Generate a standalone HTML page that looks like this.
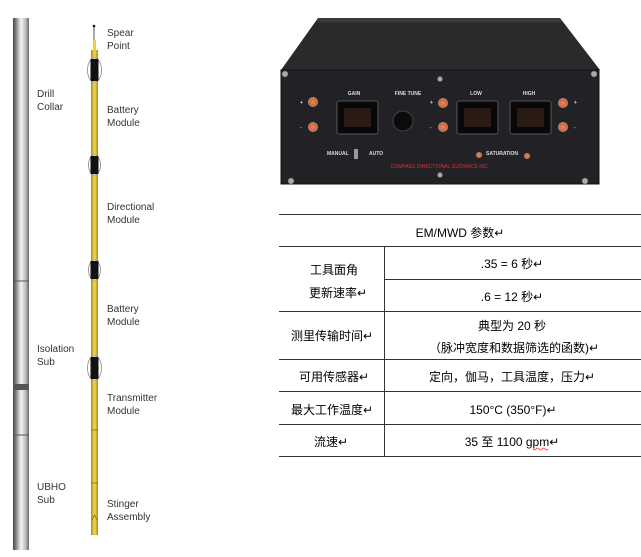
<!DOCTYPE html>
<html><head><meta charset="utf-8"><style>
body{margin:0;background:#fff;}
svg{display:block;}
.t{font-family:"Liberation Sans",sans-serif;font-size:10px;fill:#333;}
.c{font-family:"Liberation Sans","Noto Sans CJK SC",sans-serif;font-size:12px;fill:#000;}
.p{font-family:"Liberation Sans",sans-serif;font-size:5px;fill:#ddd;font-weight:bold;}
</style></head><body>
<svg width="641" height="557" viewBox="0 0 641 557">
<defs>
<linearGradient id="col" x1="0" x2="1"><stop offset="0" stop-color="#444"/><stop offset=".25" stop-color="#999"/><stop offset=".5" stop-color="#f4f4f4"/><stop offset=".8" stop-color="#bbb"/><stop offset="1" stop-color="#666"/></linearGradient>
<linearGradient id="rod" x1="0" x2="1"><stop offset="0" stop-color="#b08a10"/><stop offset=".5" stop-color="#f3dc5a"/><stop offset="1" stop-color="#b08a10"/></linearGradient>
<radialGradient id="btn"><stop offset="0" stop-color="#f08a5a"/><stop offset=".7" stop-color="#d8643a"/><stop offset="1" stop-color="#999"/></radialGradient>
</defs>
<!-- collar -->
<rect x="13" y="18" width="16" height="532" fill="url(#col)"/>
<line x1="13" y1="281" x2="29" y2="281" stroke="#555"/>
<rect x="13" y="384" width="16" height="6" fill="#555"/>
<line x1="13" y1="435" x2="29" y2="435" stroke="#555"/>
<!-- rod -->
<line x1="94" y1="26" x2="94" y2="40" stroke="#555" stroke-width="1"/>
<circle cx="94" cy="26" r="1.3" fill="#111"/>
<rect x="93" y="40" width="3" height="10" fill="#e8d040"/>
<rect x="91" y="50" width="7" height="485" fill="url(#rod)"/>
<g stroke="#8a6a10" stroke-width=".8"><line x1="91" y1="430" x2="98" y2="430"/><line x1="91" y1="483" x2="98" y2="483"/><path d="M92 520 L94.5 515 L97 520" fill="none"/></g>
<g>
<g transform="translate(94.5,70)"><ellipse rx="7" ry="12" fill="#fff" stroke="#888" stroke-width=".8"/><rect x="-4" y="-11" width="8" height="22" fill="#111"/></g>
<g transform="translate(94.5,165)"><ellipse rx="6" ry="10" fill="#fff" stroke="#888" stroke-width=".8"/><rect x="-4" y="-9" width="8" height="18" fill="#111"/></g>
<g transform="translate(94.5,270)"><ellipse rx="6" ry="10" fill="#fff" stroke="#888" stroke-width=".8"/><rect x="-4" y="-9" width="8" height="18" fill="#111"/></g>
<g transform="translate(94.5,368)"><ellipse rx="7" ry="12" fill="#fff" stroke="#888" stroke-width=".8"/><rect x="-4" y="-11" width="8" height="22" fill="#111"/></g>
</g>
<g class="t">
<text x="107" y="36">Spear</text><text x="107" y="49">Point</text>
<text x="37" y="97">Drill</text><text x="37" y="110">Collar</text>
<text x="107" y="113">Battery</text><text x="107" y="126">Module</text>
<text x="107" y="210">Directional</text><text x="107" y="223">Module</text>
<text x="107" y="312">Battery</text><text x="107" y="325">Module</text>
<text x="37" y="352">Isolation</text><text x="37" y="365">Sub</text>
<text x="107" y="401">Transmitter</text><text x="107" y="414">Module</text>
<text x="37" y="490">UBHO</text><text x="37" y="503">Sub</text>
<text x="107" y="507">Stinger</text><text x="107" y="520">Assembly</text>
</g>
<!-- device -->
<polygon points="318,18 560,18 600,70 281,70" fill="#2a2a2c"/>
<polygon points="318,18 560,18 562,22 316,22" fill="#3a3a3c"/>
<rect x="281" y="70" width="318" height="114" fill="#222226" stroke="#111"/>
<g fill="#aaa" stroke="#666" stroke-width=".5"><circle cx="285" cy="74" r="3"/><circle cx="594" cy="74" r="3"/><circle cx="291" cy="181" r="3"/><circle cx="585" cy="181" r="3"/><circle cx="440" cy="79" r="2.5"/><circle cx="440" cy="175" r="2.5"/></g>
<g fill="url(#btn)"><circle cx="313" cy="102" r="5"/><circle cx="313" cy="127" r="5"/><circle cx="443" cy="103" r="5"/><circle cx="443" cy="127" r="5"/><circle cx="563" cy="103" r="5"/><circle cx="563" cy="127" r="5"/></g>
<g fill="#080808" stroke="#555"><rect x="337" y="101" width="41" height="33" rx="2"/><rect x="457" y="101" width="41" height="33" rx="2"/><rect x="510" y="101" width="41" height="33" rx="2"/></g>
<g fill="#2a1a14"><rect x="344" y="108" width="27" height="19"/><rect x="464" y="108" width="27" height="19"/><rect x="517" y="108" width="27" height="19"/></g>
<circle cx="403" cy="121" r="10" fill="#0c0c0c" stroke="#444"/>
<rect x="354" y="149" width="4" height="10" fill="#999"/>
<g fill="url(#btn)"><circle cx="479" cy="155" r="3"/><circle cx="527" cy="156" r="3"/></g>
<g class="p"><text x="354" y="95" text-anchor="middle">GAIN</text><text x="408" y="95" text-anchor="middle">FINE TUNE</text><text x="476" y="95" text-anchor="middle">LOW</text><text x="529" y="95" text-anchor="middle">HIGH</text>
<text x="327" y="155">MANUAL</text><text x="369" y="155">AUTO</text><text x="486" y="155">SATURATION</text>
<text x="300" y="104">+</text><text x="300" y="129">-</text><text x="430" y="104">+</text><text x="430" y="129">-</text><text x="574" y="104">+</text><text x="574" y="129">-</text></g>
<text x="440" y="168" text-anchor="middle" style="font-family:'Liberation Sans',sans-serif;font-size:5px;fill:#e03030">COMPASS DIRECTIONAL GUIDANCE INC.</text>
<!-- table -->
<g stroke="#333" stroke-width="1">
<line x1="279" y1="214.5" x2="641" y2="214.5"/><line x1="279" y1="246.5" x2="641" y2="246.5"/>
<line x1="384" y1="279.5" x2="641" y2="279.5"/><line x1="279" y1="311.5" x2="641" y2="311.5"/>
<line x1="279" y1="359.5" x2="641" y2="359.5"/><line x1="279" y1="391.5" x2="641" y2="391.5"/>
<line x1="279" y1="424.5" x2="641" y2="424.5"/><line x1="279" y1="456.5" x2="641" y2="456.5"/>
<line x1="384.5" y1="246" x2="384.5" y2="456"/>
</g>
<g class="c" text-anchor="middle">
<text x="460" y="237">EM/MWD 参数↵</text>
<text x="334" y="274">工具面角</text><text x="338" y="297">更新速率↵</text>
<text x="512" y="268">.35 = 6 秒↵</text><text x="512" y="301">.6 = 12 秒↵</text>
<text x="332" y="340">测里传输时间↵</text>
<text x="512" y="330">典型为 20 秒</text><text x="514" y="352">（脉冲宽度和数据筛选的函数)↵</text>
<text x="334" y="381">可用传感器↵</text><text x="512" y="381">定向，伽马，工具温度，压力↵</text>
<text x="332" y="414">最大工作温度↵</text><text x="513" y="414">150°C (350°F)↵</text>
<text x="331" y="446">流速↵</text><text x="512" y="446">35 至 1100 gpm↵</text>
</g>
<path d="M533 449 q1.5 2 3 0 t3 0 t3 0 t3 0 t3 0" fill="none" stroke="#e33" stroke-width=".7"/>
</svg>
</body></html>
